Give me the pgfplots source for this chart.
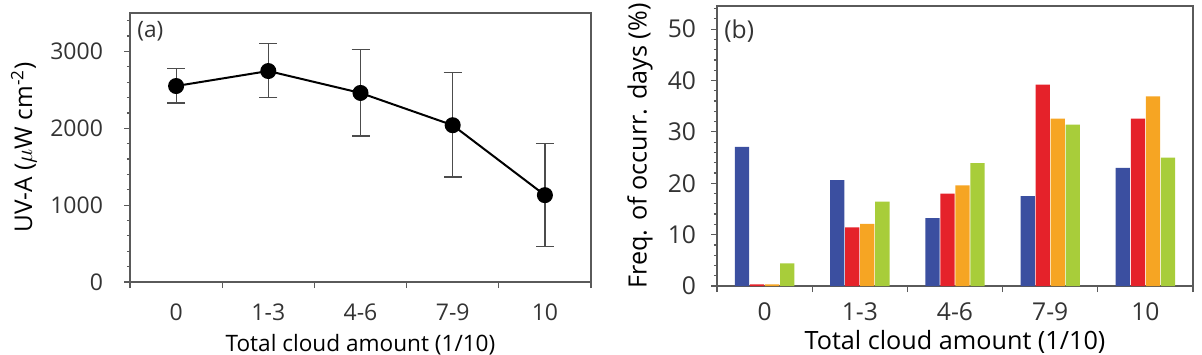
\documentclass[border=0pt]{standalone}
\usepackage{pgfplots}
\pgfplotsset{compat=1.18}
\usepackage{fontspec}
\setmainfont{Open Sans}

\definecolor{axgray}{HTML}{5A5A5A}
\definecolor{cblue}{HTML}{3B4FA0}
\definecolor{cred}{HTML}{E5222A}
\definecolor{corange}{HTML}{F6A523}
\definecolor{cgreen}{HTML}{A8CD3A}

% panel (a) is set slightly smaller than panel (b)
\newcommand{\atick}{\fontsize{11.5}{13.5}\selectfont}
\newcommand{\axlab}{\fontsize{11.3}{13.5}\selectfont}
\newcommand{\aylab}{\fontsize{12.2}{14}\selectfont}
\newcommand{\btick}{\fontsize{12.3}{14.5}\selectfont}
\newcommand{\blab}{\fontsize{12.6}{15}\selectfont}

\pgfplotsset{
  panel/.style={
    scale only axis,
    anchor=south west,
    xmin=-0.5, xmax=4.5,
    axis line style={axgray, line width=0.8pt},
    tick align=outside,
    xtick pos=bottom, ytick pos=left,
    major tick length=3pt, minor tick length=1.6pt,
    every tick/.style={axgray, line width=0.6pt},
    /pgf/number format/assume math mode=true,
    /pgf/number format/1000 sep={},
    tick label style={text=black!80},
    label style={text=black!80},
    % category boundaries carry the tick marks
    xtick={-0.5,0.5,...,4.5},
    xticklabels={},
    % category names sit between the boundaries, without marks
    extra x ticks={0,1,2,3,4},
    extra x tick style={major tick length=0pt, tick style={draw=none}},
  },
}

\pgfplotstableread{
x   y     ep   em
0   2550  230  220
1   2745  355  345
2   2460  570  560
3   2040  685  675
4   1130  670  670
}\uvadata

\pgfplotstableread{
x  blue  red   orange  green
0  27.1  0.3   0.3     4.4
1  20.6  11.4  12.1    16.4
2  13.2  18.0  19.6    23.9
3  17.5  39.2  32.6    31.4
4  23.0  32.6  36.9    25.0
}\freqdata

\begin{document}
\begin{tikzpicture}
\path[use as bounding box] (0,0) rectangle (601pt,177pt);

% (a) mean UV-A by cloud amount
\begin{axis}[panel,
  at={(65pt,36pt)},
  width=230.5pt, height=134.5pt,
  ymin=0, ymax=3500,
  ytick={0,1000,2000,3000},
  minor ytick={200,400,...,3400},
  yticklabel={\atick\pgfmathprintnumber{\tick}},
  yticklabel style={xshift=-7pt},
  xticklabel style={yshift=-7.5pt},
  extra x tick labels={\atick 0,\atick 1-3,\atick 4-6,\atick 7-9,\atick 10},
  xlabel={\axlab Total cloud amount (1/10)},
  ylabel={\aylab UV-A ($\mu$W cm\textsuperscript{-2})},
  every axis y label/.style={at={(axis description cs:-0.23,0.5)}, rotate=90, anchor=center},
  every axis x label/.style={at={(axis description cs:0.5,-0.232)}, anchor=center},
]
\addplot[black, line width=1pt, mark=*, mark size=3.5pt,
  error bars/.cd, y dir=both, y explicit,
  error bar style={line width=0.6pt, black!70},
  error mark options={rotate=90, mark size=4.5pt, line width=0.6pt, black!70}]
  table[x=x, y=y, y error plus=ep, y error minus=em] {\uvadata};
\node[anchor=north west, inner sep=0pt, text=black!80]
  at (rel axis cs:0,1) [xshift=3.5pt, yshift=-4pt] {\axlab (a)};
\end{axis}

% (b) frequency of occurrence days
\begin{axis}[panel,
  at={(358.5pt,34pt)},
  width=238pt, height=140pt,
  ymin=0, ymax=54.5,
  ytick={0,10,...,50},
  minor ytick={2,4,...,54},
  yticklabel={\btick\pgfmathprintnumber{\tick}},
  yticklabel style={xshift=-4pt},
  xticklabel style={yshift=-5pt},
  extra x tick labels={\btick 0,\btick 1-3,\btick 4-6,\btick 7-9,\btick 10},
  xlabel={\blab Total cloud amount (1/10)},
  ylabel={\blab Freq. of occurr. days (\%)},
  every axis y label/.style={at={(axis description cs:-0.162,0.5)}, rotate=90, anchor=center},
  every axis x label/.style={at={(axis description cs:0.5,-0.198)}, anchor=center},
]
\addplot[ybar, bar width=0.15, bar shift=-0.237, fill=cblue, draw=none]
  table[x=x, y=blue] {\freqdata};
\addplot[ybar, bar width=0.15, bar shift=-0.079, fill=cred, draw=none]
  table[x=x, y=red] {\freqdata};
\addplot[ybar, bar width=0.15, bar shift=0.079, fill=corange, draw=none]
  table[x=x, y=orange] {\freqdata};
\addplot[ybar, bar width=0.15, bar shift=0.237, fill=cgreen, draw=none]
  table[x=x, y=green] {\freqdata};
\node[anchor=north west, inner sep=0pt, text=black!80]
  at (rel axis cs:0,1) [xshift=3.5pt, yshift=-6.5pt] {\btick (b)};
\end{axis}
\end{tikzpicture}
\end{document}
